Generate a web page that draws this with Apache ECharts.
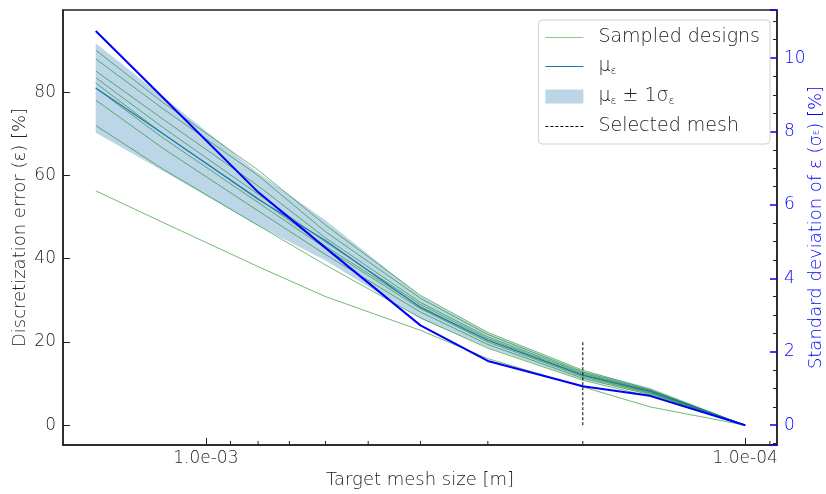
<!DOCTYPE html>
<html>
<head>
<meta charset="utf-8">
<script src="https://cdn.jsdelivr.net/npm/echarts@6/dist/echarts.min.js"></script>
<style>
    html, body { margin: 0; padding: 0; background: #fff; }
    #chart { width: 826px; height: 494px; }
</style>
</head>
<body>
<div id="chart"></div>
<script>
// target mesh sizes [m]
const meshSize = [1.6e-3, 1.2e-3, 8e-4, 6e-4, 4e-4, 3e-4, 2e-4, 1.5e-4, 1e-4];

// discretization error of each sampled design [%]
const design1 = [90.1, 77.5, 61.3, 48.1, 31.2, 22.3, 13.2, 8.6, 0];
const design2 = [88.0, 76.0, 60.0, 46.5, 30.5, 21.8, 12.8, 8.4, 0];
const design3 = [85.1, 73.5, 57.5, 45.0, 29.5, 21.2, 12.5, 8.2, 0];
const design4 = [83.5, 71.5, 55.5, 44.0, 29.0, 20.8, 12.2, 8.0, 0];
const design5 = [82.2, 70.0, 54.5, 43.0, 28.5, 20.4, 12.0, 7.8, 0];
const design6 = [81.0, 69.0, 53.5, 42.5, 28.0, 20.0, 11.7, 7.6, 0];
const design7 = [78.1, 66.5, 51.5, 41.0, 27.2, 19.4, 11.3, 7.3, 0];
const design8 = [72.0, 61.5, 48.0, 38.5, 25.8, 18.5, 10.8, 6.9, 0];
const design9 = [56.3, 48.7, 38.1, 30.9, 22.8, 16.0, 9.2, 4.4, 0];
const sampledDesigns = [design1, design2, design3, design4, design5, design6, design7, design8, design9];

// mean and standard deviation of the error [%]
const muEps = [81.0, 70.0, 54.3, 44.4, 28.3, 20.4, 12.0, 8.2, 0];
const sigmaEps = [10.74, 8.92, 6.35, 4.83, 2.72, 1.75, 1.06, 0.8, 0];

// selected mesh marker
const selectedMesh = 2e-4;
const selectedRange = [0, 20];

// minor ticks of the log axis
const xMinorTicks = [9e-4, 8e-4, 7e-4, 6e-4, 5e-4, 4e-4, 3e-4, 2e-4, 9e-5];

const font = 'DejaVu Sans';
const weight = 200;
const textColor = '#222';
const sigmaColor = '#0000ff';
const sampledColor = 'rgba(0,128,0,0.55)';
const bandColor = '#bcd6e8';
const muColor = '#1f77b4';

function pairs(ys) {
    return meshSize.map(function (x, i) { return [x, ys[i]]; });
}

function formatExp(v) {
    return Number(v).toExponential(1).replace(/e([+-])(\d)$/, 'e$10$2');
}

const chart = echarts.init(document.getElementById('chart'), null, {renderer: 'canvas'});

const legendNames = {
    'Sampled designs': 'Sampled designs',
    'mu': '{n|μ}{s|ε}',
    'band': '{n|μ}{s|ε}{n| ± 1σ}{s|ε}',
    'Selected mesh': 'Selected mesh'
};

const series = [];

// mean +/- 1 sigma band, drawn as one polygon through the axes
const bandData = meshSize.map(function (x, i) {
    return [x, muEps[i] - sigmaEps[i], muEps[i] + sigmaEps[i]];
});
series.push({
    name: 'band',
    type: 'custom',
    silent: true,
    itemStyle: {color: bandColor},
    encode: {x: 0, y: [1, 2]},
    data: bandData,
    renderItem: function (params, api) {
        if (params.dataIndex !== 0) {
            return null;
        }
        const upper = bandData.map(function (d) { return api.coord([d[0], d[2]]); });
        const lower = bandData.map(function (d) { return api.coord([d[0], d[1]]); }).reverse();
        return {
            type: 'polygon',
            shape: {points: upper.concat(lower)},
            style: {fill: bandColor}
        };
    },
    z: 1
});

sampledDesigns.forEach(function (d) {
    series.push({
        name: 'Sampled designs',
        type: 'line',
        symbol: 'none',
        itemStyle: {color: sampledColor},
        lineStyle: {color: sampledColor, width: 1},
        data: pairs(d),
        z: 3
    });
});

series.push({
    name: 'mu',
    type: 'line',
    symbol: 'none',
    itemStyle: {color: muColor},
    lineStyle: {color: muColor, width: 1.2},
    data: pairs(muEps),
    z: 4
});

series.push({
    name: 'sigma',
    type: 'line',
    yAxisIndex: 1,
    symbol: 'none',
    itemStyle: {color: '#0000ff'},
    lineStyle: {color: '#0000ff', width: 2},
    data: pairs(sigmaEps),
    z: 5
});

series.push({
    name: 'Selected mesh',
    type: 'line',
    symbol: 'none',
    itemStyle: {color: '#000'},
    lineStyle: {color: '#000', width: 1, type: [3, 2]},
    data: [[selectedMesh, selectedRange[0]], [selectedMesh, selectedRange[1]]],
    z: 6
});

series.push({
    name: 'minorTicks',
    type: 'custom',
    silent: true,
    data: xMinorTicks.map(function (x) { return [x, 0]; }),
    renderItem: function (params, api) {
        const px = api.coord([api.value(0), 0])[0];
        const bottom = params.coordSys.y + params.coordSys.height;
        return {
            type: 'line',
            shape: {x1: px, y1: bottom, x2: px, y2: bottom - 4},
            style: {stroke: '#222', lineWidth: 1}
        };
    },
    z: 10
});

const lineIcon = 'path://M0,0H38V1.2H0Z';
const dashIcon = 'path://M0,0H3V1H0ZM5,0H8V1H5ZM10,0H13V1H10ZM15,0H18V1H15ZM20,0H23V1H20ZM25,0H28V1H25ZM30,0H33V1H30ZM35,0H38V1H35Z';

const option = {
    animation: false,
    backgroundColor: '#fff',
    textStyle: {fontFamily: font, fontWeight: weight},
    grid: {
        left: 63,
        right: 49,
        top: 10,
        bottom: 49,
        show: true,
        borderColor: '#222',
        borderWidth: 1.5,
        outerBoundsMode: 'none',
        containLabel: false
    },
    legend: {
        orient: 'vertical',
        right: 56,
        top: 20,
        padding: [8, 10, 8, 7],
        itemGap: 10,
        itemWidth: 38,
        itemHeight: 14,
        backgroundColor: '#fff',
        borderColor: '#d0d0d0',
        borderWidth: 1,
        borderRadius: 4,
        formatter: function (name) { return legendNames[name] || name; },
        textStyle: {
            fontFamily: font,
            fontWeight: weight,
            fontSize: 19,
            color: textColor,
            padding: [0, 0, 0, 10],
            rich: {
                n: {fontSize: 19, fontFamily: font, fontWeight: weight, color: textColor},
                s: {fontSize: 11, fontFamily: font, fontWeight: weight, color: textColor, padding: [10, 0, 0, 0]}
            }
        },
        data: [
            {name: 'Sampled designs', icon: lineIcon, itemStyle: {color: '#88cc88'}},
            {name: 'mu', icon: lineIcon, itemStyle: {color: muColor}},
            {name: 'band', icon: 'rect', itemStyle: {color: bandColor}},
            {name: 'Selected mesh', icon: dashIcon, itemStyle: {color: '#000'}}
        ]
    },
    xAxis: {
        type: 'log',
        logBase: 10,
        inverse: true,
        min: 8.73e-5,
        max: 1.84e-3,
        name: 'Target mesh size [m]',
        nameLocation: 'middle',
        nameGap: 26,
        nameMoveOverlap: false,
        nameTextStyle: {fontFamily: font, fontWeight: weight, fontSize: 18, color: textColor},
        axisLine: {show: true, onZero: false, lineStyle: {color: '#222', width: 1.5}},
        axisTick: {show: true, inside: true, length: 7, lineStyle: {color: '#222'}},
        axisLabel: {
            fontFamily: font,
            fontWeight: weight,
            fontSize: 17,
            color: textColor,
            margin: 5,
            showMinLabel: false,
            showMaxLabel: false,
            formatter: formatExp
        },
        splitLine: {show: false}
    },
    yAxis: [{
        type: 'value',
        min: -4.75,
        max: 99.75,
        splitNumber: 5,
        name: 'Discretization error (ε) [%]',
        nameLocation: 'middle',
        nameGap: 34,
        nameMoveOverlap: false,
        nameTextStyle: {fontFamily: font, fontWeight: weight, fontSize: 18, color: textColor},
        axisLine: {show: true, onZero: false, lineStyle: {color: '#222', width: 1.5}},
        axisTick: {show: true, inside: true, length: 7, lineStyle: {color: '#222'}},
        axisLabel: {
            fontFamily: font,
            fontWeight: weight,
            fontSize: 17,
            color: textColor,
            margin: 7,
            showMinLabel: false,
            showMaxLabel: false
        },
        splitLine: {show: false}
    }, {
        type: 'value',
        min: -0.539,
        max: 11.31,
        splitNumber: 5,
        position: 'right',
        name: 'Standard deviation of ε (σ{s|ε}) [%]',
        nameLocation: 'middle',
        nameGap: 30,
        nameRotate: 90,
        nameMoveOverlap: false,
        nameTextStyle: {
            fontFamily: font, fontWeight: weight, fontSize: 18, color: sigmaColor,
            rich: {s: {fontSize: 10, fontWeight: weight, color: sigmaColor, fontFamily: font}}
        },
        axisLine: {show: true, onZero: false, lineStyle: {color: '#222', width: 1.5}},
        axisTick: {show: true, inside: true, length: 7, lineStyle: {color: sigmaColor, width: 1.5}},
        minorTick: {show: true, splitNumber: 4, length: 4, lineStyle: {color: '#222'}},
        axisLabel: {
            fontFamily: font,
            fontWeight: weight,
            fontSize: 17,
            color: sigmaColor,
            margin: 7,
            showMinLabel: false,
            showMaxLabel: false
        },
        splitLine: {show: false}
    }],
    series: series
};

chart.setOption(option);
</script>
</body>
</html>
